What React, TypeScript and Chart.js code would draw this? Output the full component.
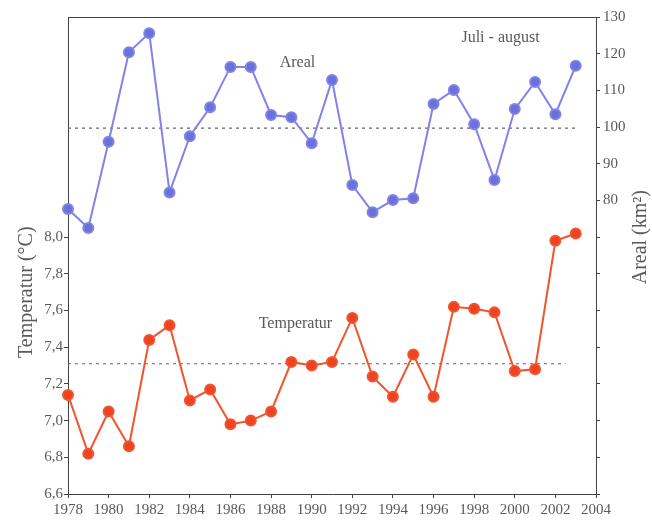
import React, { useEffect, useRef } from "react";
import { Chart, registerables } from "chart.js";

Chart.register(...registerables);

// Years of record
const years = [1978, 1979, 1980, 1981, 1982, 1983, 1984, 1985, 1986, 1987, 1988, 1989, 1990, 1991, 1992, 1993, 1994, 1995, 1996, 1997, 1998, 1999, 2000, 2001, 2002, 2003];

// Glacier/lake area, July - August (km²)
const arealValues = [77.7, 72.5, 96.0, 120.4, 125.6, 82.2, 97.5, 105.4, 116.4, 116.4, 103.3, 102.7, 95.6, 112.8, 84.2, 76.8, 80.1, 80.6, 106.3, 110.1, 100.8, 85.6, 104.9, 112.3, 103.5, 116.7];

// Mean temperature, July - August (°C)
const temperaturValues = [7.14, 6.82, 7.05, 6.86, 7.44, 7.52, 7.11, 7.17, 6.98, 7.0, 7.05, 7.32, 7.3, 7.32, 7.56, 7.24, 7.13, 7.36, 7.13, 7.62, 7.61, 7.59, 7.27, 7.28, 7.98, 8.02];

// Long-term means shown as dotted reference lines
const arealMean = 99.7;
const temperaturMean = 7.31;

// Axis settings
const xTicks = [1978, 1980, 1982, 1984, 1986, 1988, 1990, 1992, 1994, 1996, 1998, 2000, 2002, 2004];
const tempRange = [6.6, 9.2];
const tempLabelMax = 8.0;
const arealRange = [0, 130];
const arealLabelMin = 80;

const FONT = "'Liberation Serif', 'Times New Roman', serif";
const TEXT = "#5a5a5a";
const AXIS = "#444444";

const annotations = [
  { text: "Areal", x: 1989.3, y: 117.4, axis: "y1" },
  { text: "Juli - august", x: 1999.3, y: 124.3, axis: "y1" },
  { text: "Temperatur", x: 1989.2, y: 7.53, axis: "y" },
];

const framePlugin = {
  id: "frame",
  afterDraw(chart: any) {
    const { ctx, chartArea } = chart;
    const { left, right, top } = chartArea;
    ctx.save();
    ctx.strokeStyle = AXIS;
    ctx.lineWidth = 1;
    ctx.beginPath();
    ctx.moveTo(left, top + 0.5);
    ctx.lineTo(right, top + 0.5);
    ctx.stroke();

    ctx.fillStyle = TEXT;
    ctx.font = `16px ${FONT}`;
    ctx.textAlign = "center";
    ctx.textBaseline = "middle";
    for (const a of annotations) {
      const px = chart.scales.x.getPixelForValue(a.x);
      const py = chart.scales[a.axis].getPixelForValue(a.y);
      ctx.fillText(a.text, px, py);
    }

    // Axis titles, both reading bottom to top
    ctx.font = `20px ${FONT}`;
    ctx.save();
    ctx.translate(27, chart.scales.y.getPixelForValue(7.7));
    ctx.rotate(-Math.PI / 2);
    ctx.fillText("Temperatur (°C)", 0, 0);
    ctx.restore();
    ctx.save();
    ctx.translate(641, chart.scales.y1.getPixelForValue(70));
    ctx.rotate(-Math.PI / 2);
    ctx.fillText("Areal (km²)", 0, 0);
    ctx.restore();
    ctx.restore();
  },
};

export default function App() {
  const canvasRef = useRef<HTMLCanvasElement | null>(null);

  useEffect(() => {
    document.body.style.margin = "0";
    const canvas = canvasRef.current;
    if (!canvas) return;

    const arealPoints = years.map((x, i) => ({ x, y: arealValues[i] }));
    const tempPoints = years.map((x, i) => ({ x, y: temperaturValues[i] }));
    const first = years[0];
    const last = years[years.length - 1];

    const chart = new Chart(canvas, {
      type: "line",
      data: {
        datasets: [
          {
            label: "Areal",
            data: arealPoints,
            yAxisID: "y1",
            borderColor: "#7F84E6",
            backgroundColor: "#6C70DA",
            pointBackgroundColor: "#6C70DA",
            pointBorderColor: "#7F84E6",
            borderWidth: 2,
            pointRadius: 5,
            clip: false as any,
          },
          {
            label: "Temperatur",
            data: tempPoints,
            yAxisID: "y",
            borderColor: "#F2542E",
            backgroundColor: "#EC4422",
            pointBackgroundColor: "#EC4422",
            pointBorderColor: "#F2542E",
            borderWidth: 2,
            pointRadius: 5,
            clip: false as any,
          },
          {
            label: "Areal mean",
            data: [{ x: first, y: arealMean }, { x: last, y: arealMean }],
            yAxisID: "y1",
            borderColor: "#666666",
            borderWidth: 1.2,
            borderDash: [3, 4],
            pointRadius: 0,
          },
          {
            label: "Temperatur mean",
            data: [{ x: first, y: temperaturMean }, { x: last - 0.5, y: temperaturMean }],
            yAxisID: "y",
            borderColor: "#666666",
            borderWidth: 1.2,
            borderDash: [3, 4],
            pointRadius: 0,
          },
        ],
      },
      options: {
        animation: false,
        responsive: false,
        maintainAspectRatio: false,
        layout: { padding: { top: 17, left: 0, right: 0, bottom: 0 } },
        plugins: { legend: { display: false }, tooltip: { enabled: false } },
        scales: {
          x: {
            type: "linear",
            min: xTicks[0],
            max: xTicks[xTicks.length - 1],
            afterBuildTicks: (scale: any) => {
              scale.ticks = xTicks.map((v) => ({ value: v }));
            },
            afterFit: (scale: any) => {
              scale.height = 28;
            },
            ticks: {
              callback: (v: any) => String(v),
              font: { family: FONT, size: 15 },
              color: TEXT,
              padding: 3,
              maxRotation: 0,
              autoSkip: false,
            },
            grid: { drawOnChartArea: false, tickLength: 4, color: AXIS },
            border: { color: AXIS, width: 1 },
          },
          y: {
            position: "left",
            min: tempRange[0],
            max: tempRange[1],
            ticks: {
              stepSize: 0.2,
              callback: (v: any) =>
                v <= tempLabelMax + 1e-6 ? Number(v).toFixed(1).replace(".", ",") : "",
              font: { family: FONT, size: 15 },
              color: TEXT,
              padding: 1,
            },
            afterFit: (scale: any) => {
              scale.width = 68;
            },
            grid: {
              drawOnChartArea: false,
              tickLength: 4,
              color: (c: any) =>
                c.tick && c.tick.value <= tempLabelMax + 1e-6 ? AXIS : "rgba(0,0,0,0)",
            },
            border: { color: AXIS, width: 1 },
          },
          y1: {
            position: "right",
            min: arealRange[0],
            max: arealRange[1],
            ticks: {
              stepSize: 10,
              callback: (v: any) => (v >= arealLabelMin ? String(v) : ""),
              font: { family: FONT, size: 15 },
              color: TEXT,
              padding: 3,
            },
            afterFit: (scale: any) => {
              scale.width = 56;
            },
            grid: { drawOnChartArea: false, tickLength: 4, color: AXIS },
            border: { color: AXIS, width: 1 },
          },
        },
      },
      plugins: [framePlugin],
    } as any);

    return () => chart.destroy();
  }, []);

  return (
    <div style={{ width: 652, height: 522, background: "#ffffff" }}>
      <canvas ref={canvasRef} width={652} height={522} style={{ display: "block" }} />
    </div>
  );
}
